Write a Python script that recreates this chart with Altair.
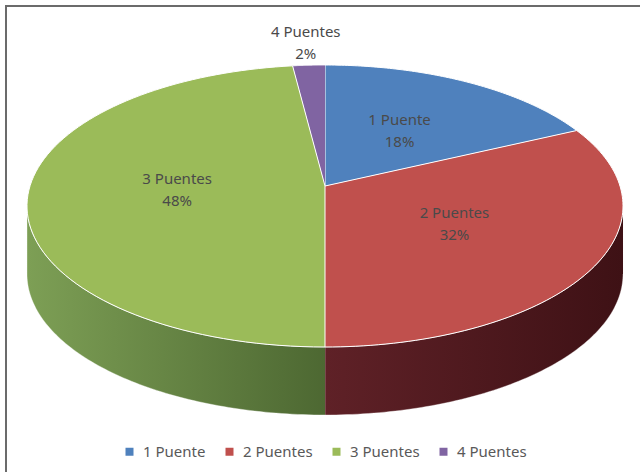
import altair as alt
import numpy as np
import pandas as pd

# ---- data ----
categories = ["1 Puente", "2 Puentes", "3 Puentes", "4 Puentes"]
values = [18, 32, 48, 2]
colors = ["#4f81bd", "#c0504d", "#9bbb59", "#8064a2"]
wall_colors = {"2 Puentes": ["#5f2127", "#3e1115"],
               "3 Puentes": ["#7d9f55", "#4d6832"]}

# ---- geometry (style) ----
W, H = 640, 472
CX, CY = 325, 206          # ellipse centre
A, B, C0, K = 295, 141, -20, 0.1418   # perspective mapping of unit disc
DEPTH = 68
N = 90

total = float(sum(values))
cum = np.cumsum([0] + values) / total
slices = pd.DataFrame({"cat": categories, "value": values,
                       "f0": cum[:-1], "f1": cum[1:]})

# top faces: centre + arc samples for each slice
top_rows = []
for c, a0, a1 in zip(categories, cum[:-1], cum[1:]):
    top_rows.append({"cat": c, "i": 0, "frac": (a0 + a1) / 2, "rr": 0.0, "dz": 0})
    for j in range(N + 1):
        top_rows.append({"cat": c, "i": j + 1, "frac": a0 + (a1 - a0) * j / N,
                         "rr": 1.0, "dz": 0})
top_df = pd.DataFrame(top_rows)

# visible front wall range
f_lo = np.arccos(-K) / (2 * np.pi)
f_hi = 1 - f_lo
wall_rows = []
for c, a0, a1 in zip(categories, cum[:-1], cum[1:]):
    a, b = max(a0, f_lo), min(a1, f_hi)
    if a < b:
        for j in range(N + 1):
            wall_rows.append({"cat": c, "i": j, "frac": a + (b - a) * j / N,
                              "rr": 1.0, "dz": 0})
        for j in range(N + 1):
            wall_rows.append({"cat": c, "i": N + 1 + j, "frac": b - (b - a) * j / N,
                              "rr": 1.0, "dz": DEPTH})
wall_df = pd.DataFrame(wall_rows)

def project(ch):
    return ch.transform_calculate(
        u="datum.rr*sin(2*PI*datum.frac)",
        v="-datum.rr*cos(2*PI*datum.frac)",
    ).transform_calculate(
        px=f"{CX} + {A}*datum.u/(1-{K}*datum.v)",
        py=f"{CY} + ({B}*datum.v + {C0}*1)/(1-{K}*datum.v) + datum.dz",
    )

xenc = alt.X("px:Q", scale=alt.Scale(domain=[0, W], nice=False, zero=False), axis=None)
yenc = alt.Y("py:Q", scale=alt.Scale(domain=[0, H], nice=False, zero=False, reverse=True), axis=None)

layers = []
for c, (c1, c2) in wall_colors.items():
    grad = alt.Gradient(gradient="linear",
                        stops=[alt.GradientStop(color=c1, offset=0),
                               alt.GradientStop(color=c2, offset=1)],
                        x1=0, x2=1, y1=0, y2=0)
    layers.append(
        project(alt.Chart(wall_df).transform_filter(alt.datum.cat == c))
        .mark_line(filled=True, color=grad, stroke="#ffffff", strokeWidth=0.6,
                   strokeOpacity=0.6)
        .encode(x=xenc, y=yenc, order="i:Q")
    )

top = (
    project(alt.Chart(top_df))
    .mark_line(filled=True, stroke="#ffffff", strokeWidth=1)
    .encode(
        x=xenc, y=yenc, order="i:Q", detail="cat:N",
        color=alt.Color("cat:N", scale=alt.Scale(domain=categories, range=colors),
                        legend=alt.Legend(title=None, orient="none", direction="horizontal",
                                          legendX=122, legendY=444,
                                          symbolType="square", symbolSize=64,
                                          symbolStrokeWidth=0,
                                          labelFont="Noto Sans", labelFontSize=15,
                                          labelColor="#595959", labelOffset=6,
                                          columnPadding=16)),
    )
)
layers.append(top)

labels = (
    alt.Chart(slices)
    .transform_calculate(frac="(datum.f0+datum.f1)/2",
                         rr=f"datum.value/{total} < 0.05 ? 1.22 : 0.5",
                         dz="0",
                         label="datum.cat + '\\n' + datum.value + '%'")
)
labels = project(labels).mark_text(
    lineBreak="\n", font="Noto Sans", fontSize=15, color="#4a4a4a",
    lineHeight=22, align="center", baseline="middle", dy=-11
).encode(x=xenc, y=yenc, text="label:N")
layers.append(labels)

border_top = alt.Chart(slices).mark_rule(color="#6b6b6b", strokeWidth=2).encode(
    x=alt.value(5), x2=alt.value(W), y=alt.value(6))
border_left = alt.Chart(slices).mark_rule(color="#6b6b6b", strokeWidth=2).encode(
    x=alt.value(6), y=alt.value(5), y2=alt.value(H))
layers += [border_top, border_left]

chart = alt.layer(*layers).properties(
    width=W, height=H, autosize=alt.AutoSizeParams(type="none"), padding=0,
    background="white"
).configure_view(stroke=None)

chart.save("out.html", embed_options={"renderer": "svg", "actions": False})
